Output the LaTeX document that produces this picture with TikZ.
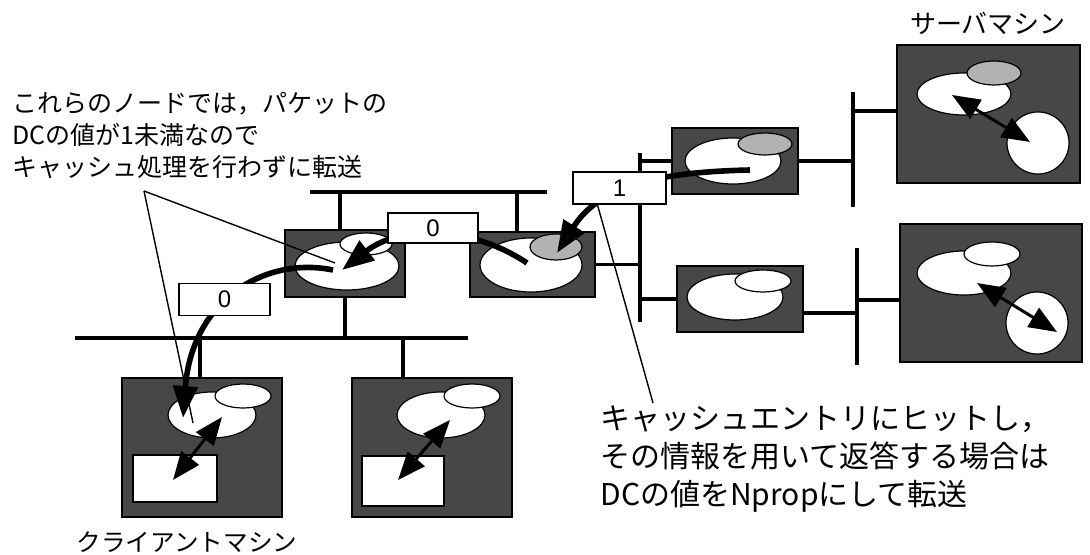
\documentclass[tikz,border=0pt]{standalone}
\usepackage{fontspec}
\setmainfont{Liberation Sans}
\newfontfamily\jp{Noto Sans CJK JP}
\usetikzlibrary{arrows.meta,shapes.geometric}

\begin{document}
\begin{tikzpicture}[
    x=0.5pt, y=-0.5pt,
    machine/.style={draw, line width=1pt, fill=black!72, inner sep=0},
    hole/.style={ellipse, draw, line width=0.6pt, fill=white, inner sep=0},
    cache/.style={ellipse, draw, line width=0.6pt, fill=black!30, inner sep=0},
    disk/.style={circle, draw, line width=0.6pt, fill=white, inner sep=0},
    screen/.style={draw, line width=0.6pt, fill=white, inner sep=0},
    dc/.style={draw, line width=0.6pt, fill=white, inner sep=0,
               font=\fontsize{12}{13}\selectfont, minimum height=16pt},
    bus/.style={line width=1.8pt},
    flow/.style={line width=2.8pt, -{Triangle[length=16pt,width=12pt]}},
    swap/.style={line width=1.5pt,
                 {Triangle[length=14pt,width=11pt]}-{Triangle[length=14pt,width=11pt]}},
    callout/.style={line width=0.7pt},
    note/.style={align=left, inner sep=0, anchor=north west}
  ]
    \useasboundingbox (0,0) rectangle (1090,555);

    \node[machine, minimum width=60pt, minimum height=33.5pt] (r1) at (345,263.5) {};
    \node[machine, minimum width=62.5pt, minimum height=32.5pt] (r2) at (532.5,264.5) {};
    \node[machine, minimum width=63pt, minimum height=33pt] (r3) at (735,161) {};
    \node[machine, minimum width=63pt, minimum height=33pt] (r4) at (740,299) {};
    \node[machine, minimum width=91.5pt, minimum height=69pt] (s1) at (988.5,114) {};
    \node[machine, minimum width=91pt, minimum height=69pt] (s2) at (991,293) {};
    \node[machine, minimum width=80pt, minimum height=69.5pt] (c1) at (202,447.5) {};
    \node[machine, minimum width=80pt, minimum height=69.5pt] (c2) at (432,447.5) {};

    \node[hole, minimum width=52pt, minimum height=24pt] (r1-big) at (347,266) {};
    \node[hole, minimum width=26pt, minimum height=11pt] (r1-small) at (366,244) {};
    \node[hole, minimum width=51pt, minimum height=27pt] (r2-big) at (531,265) {};
    \node[cache, minimum width=26pt, minimum height=13pt] (r2-cache) at (556,247) {};
    \node[hole, minimum width=48pt, minimum height=23pt] (r3-big) at (733,161) {};
    \node[cache, minimum width=27pt, minimum height=11pt] (r3-cache) at (765,144) {};
    \node[hole, minimum width=48pt, minimum height=23pt] (r4-big) at (735,297) {};
    \node[hole, minimum width=28pt, minimum height=11pt] (r4-small) at (763,281) {};

    \node[hole, minimum width=47pt, minimum height=21pt] (s1-big) at (964,94) {};
    \node[cache, minimum width=27pt, minimum height=12pt] (s1-cache) at (994,73) {};
    \node[disk, minimum size=31pt] (s1-disk) at (1038,143) {};
    \node[hole, minimum width=47pt, minimum height=22pt] (s2-big) at (964,273) {};
    \node[hole, minimum width=28pt, minimum height=12pt] (s2-small) at (992,254) {};
    \node[disk, minimum size=31pt] (s2-disk) at (1037,323) {};

    \node[hole, minimum width=44pt, minimum height=23pt] (c1-big) at (212,415) {};
    \node[hole, minimum width=28pt, minimum height=12pt] (c1-small) at (243,396) {};
    \node[screen, minimum width=42pt, minimum height=23.5pt] (c1-scr) at (175,478.5) {};
    \node[hole, minimum width=44pt, minimum height=23pt] (c2-big) at (441,415) {};
    \node[hole, minimum width=28pt, minimum height=12pt] (c2-small) at (472,396) {};
    \node[screen, minimum width=41pt, minimum height=25pt] (c2-scr) at (403,481) {};

    \coordinate (lanA-w) at (310,192);
    \coordinate (lanA-e) at (547,192);
    \coordinate (tapA1) at (340,192);
    \coordinate (tapA2) at (517,192);
    \coordinate (lanB-w) at (75,338);
    \coordinate (lanB-e) at (468,338);
    \coordinate (tapB1) at (345,338);
    \coordinate (tapB2) at (200,338);
    \coordinate (tapB3) at (403,338);
    \coordinate (lanC-n) at (640,153);
    \coordinate (lanC-s) at (640,322);
    \coordinate (lanD-n) at (853,92);
    \coordinate (lanD-s) at (853,207);
    \coordinate (lanE-n) at (857,248);
    \coordinate (lanE-s) at (857,365);

    \draw[bus] (lanA-w) -- (lanA-e);
    \draw[bus] (tapA1) -- (tapA1 |- r1.north);
    \draw[bus] (tapA2) -- (tapA2 |- r2.north);
    \draw[bus] (lanB-w) -- (lanB-e);
    \draw[bus] (tapB1) -- (tapB1 |- r1.south);
    \draw[bus] (tapB2) -- (tapB2 |- c1.north);
    \draw[bus] (tapB3) -- (tapB3 |- c2.north);
    \draw[bus] (lanC-n) -- (lanC-s);
    \draw[bus] (r2.east) -- (r2.east -| lanC-n);
    \draw[bus] (r3.west) -- (r3.west -| lanC-n);
    \draw[bus] (r4.west) -- (r4.west -| lanC-n);
    \draw[bus] (lanD-n) -- (lanD-s);
    \draw[bus] (r3.east) -- (r3.east -| lanD-n);
    \draw[bus] ([yshift=1.5pt]s1.west) -- ++(-44,0);
    \draw[bus] (lanE-n) -- (lanE-s);
    \draw[bus] ([yshift=-7pt]r4.east) -- ++(54,0);
    \draw[bus] ([yshift=-3.5pt]s2.west) -- ++(-43,0);

    \draw[swap] ([shift={(-12,1)}]s1-big.center) -- ([shift={(-8,-1)}]s1-disk.center);
    \draw[swap] ([shift={(13,10)}]s2-big.center) -- ([shift={(20,9)}]s2-disk.center);
    \draw[swap] ([shift={(-2,1.5)}]c1-scr.center) -- ([shift={(10,2)}]c1-big.center);
    \draw[swap] ([shift={(-5,-1)}]c2-scr.center) -- ([shift={(9,5)}]c2-big.center);

    \draw[flow] ([shift={(-14,4)}]r1-big.center) .. controls (265,256) and (192,300) .. ([shift={(-29,3)}]c1-big.center);
    \draw[flow] ([shift={(-4,-2)}]r2-big.center) .. controls (470,225) and (400,225) .. ([shift={(-5,4)}]r1-big.center);
    \draw[flow] ([shift={(17,9)}]r3-big.center) .. controls (660,172) and (600,185) .. ([shift={(1,6)}]r2-cache.center);

    \node[dc, minimum width=45.5pt] (dc1) at (224.5,299.5) {0};
    \node[dc, minimum width=45pt, minimum height=15pt] (dc2) at (433,228) {0};
    \node[dc, minimum width=46.5pt] (dc3) at (619.5,188) {1};

    \node[note, font=\jp\fontsize{12.5}{16}\selectfont] (passnote) at (12,92)
      {これらのノードでは，パケットの\\DCの値が1未満なので\\キャッシュ処理を行わずに転送};
    \node[note, font=\jp\fontsize{15}{19}\selectfont] (hitnote) at (600,405)
      {キャッシュエントリにヒットし，\\その情報を用いて返答する場合は\\DCの値をNpropにして転送};
    \node[font=\jp\fontsize{13}{15}\selectfont] (srvlabel) at (988,23) {サーバマシン};
    \node[font=\jp\fontsize{12.3}{15}\selectfont] (clilabel) at (187,542) {クライアントマシン};

    \coordinate (fork) at (144,191);
    \draw[callout] (fork) -- ([shift={(-12,-3)}]r1-big.center);
    \draw[callout] (fork) -- ([shift={(-19,8)}]c1-big.center);
    \draw[callout] ([xshift=12.5pt]dc3.south west) -- ([shift={(53,-2)}]hitnote.north west);
  \end{tikzpicture}
\end{document}
